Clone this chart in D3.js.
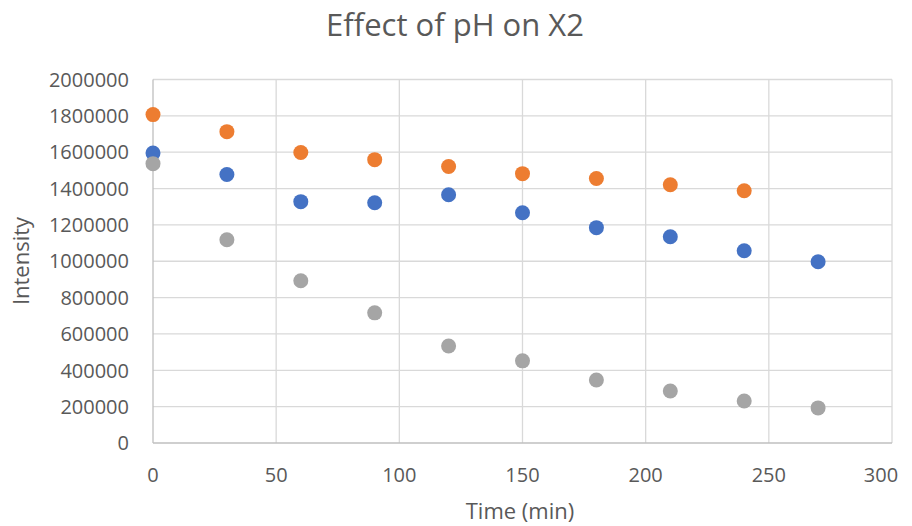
<!DOCTYPE html>
<html>
<head>
<meta charset="utf-8">
<script src="https://d3js.org/d3.v7.min.js"></script>
<style>
  body { margin: 0; background: #fff; }
  svg { display: block; font-family: "Open Sans", sans-serif; }
</style>
</head>
<body>
<svg id="chart" width="912" height="526"></svg>
<script>
// data
var times = [0, 30, 60, 90, 120, 150, 180, 210, 240, 270];
var blueVals = [1595000, 1477000, 1328000, 1322000, 1366000, 1267000, 1185000, 1135000, 1058000, 997000];
var orangeVals = [1807000, 1713000, 1598000, 1559000, 1521000, 1482000, 1455000, 1421000, 1388000];
var grayVals = [1537000, 1118000, 893000, 716000, 534000, 452000, 347000, 286000, 231000, 193000];
var xTicks = [0, 50, 100, 150, 200, 250, 300];
var yTicks = [0, 200000, 400000, 600000, 800000, 1000000, 1200000, 1400000, 1600000, 1800000, 2000000];

var series = [
  {vals: blueVals, color: '#4472c4'},
  {vals: orangeVals, color: '#ed7d31'},
  {vals: grayVals, color: '#a5a5a5'}
];

var svg = d3.select('#chart');
var plotL = 153, plotR = 892, plotT = 79.5, plotB = 443;

var x = d3.scaleLinear().domain([0, 300]).range([plotL, plotR]);
var y = d3.scaleLinear().domain([0, 2000000]).range([plotB, plotT]);

// gridlines
svg.append('g').selectAll('line')
  .data(yTicks.slice(1))
  .enter().append('line')
    .attr('x1', plotL).attr('x2', plotR)
    .attr('y1', function(d){ return y(d); }).attr('y2', function(d){ return y(d); })
    .style('stroke', '#d9d9d9').style('stroke-width', 1.3);

svg.append('g').selectAll('line')
  .data(xTicks.slice(1))
  .enter().append('line')
    .attr('y1', plotT).attr('y2', plotB)
    .attr('x1', function(d){ return x(d); }).attr('x2', function(d){ return x(d); })
    .style('stroke', '#d9d9d9').style('stroke-width', 1.3);

// axis lines
svg.append('line').attr('x1', plotL).attr('x2', plotL).attr('y1', plotT).attr('y2', plotB)
  .style('stroke', '#bfbfbf').style('stroke-width', 1.3);
svg.append('line').attr('x1', plotL).attr('x2', plotR).attr('y1', plotB).attr('y2', plotB)
  .style('stroke', '#bfbfbf').style('stroke-width', 1.3);

// tick labels
svg.append('g').selectAll('text')
  .data(yTicks)
  .enter().append('text')
    .attr('x', plotL - 24)
    .attr('y', function(d){ return y(d); })
    .attr('dy', '0.36em')
    .attr('text-anchor', 'end')
    .style('font-size', '20px').style('fill', '#595959')
    .text(function(d){ return d; });

svg.append('g').selectAll('text')
  .data(xTicks)
  .enter().append('text')
    .attr('x', function(d, i){ return x(d) - (i == xTicks.length - 1 ? 11 : 0); })
    .attr('y', 475)
    .attr('dy', '0.36em')
    .attr('text-anchor', 'middle')
    .style('font-size', '20px').style('fill', '#595959')
    .text(function(d){ return d; });

// titles
svg.append('text').attr('x', 455).attr('y', 25).attr('dy', '0.36em')
  .attr('text-anchor', 'middle')
  .style('font-size', '31px').style('fill', '#595959')
  .text('Effect of pH on X2');

svg.append('text').attr('x', 520).attr('y', 511).attr('dy', '0.36em')
  .attr('text-anchor', 'middle')
  .style('font-size', '22px').style('fill', '#595959')
  .text('Time (min)');

svg.append('text')
  .attr('transform', 'translate(21,261) rotate(-90)')
  .attr('dy', '0.36em')
  .attr('text-anchor', 'middle')
  .style('font-size', '22px').style('fill', '#595959')
  .text('Intensity');

// markers
series.forEach(function(s){
  svg.append('g').selectAll('circle')
    .data(s.vals)
    .enter().append('circle')
      .attr('cx', function(d, i){ return x(times[i]); })
      .attr('cy', function(d){ return y(d); })
      .attr('r', 7.5)
      .style('fill', s.color);
});
</script>
</body>
</html>
